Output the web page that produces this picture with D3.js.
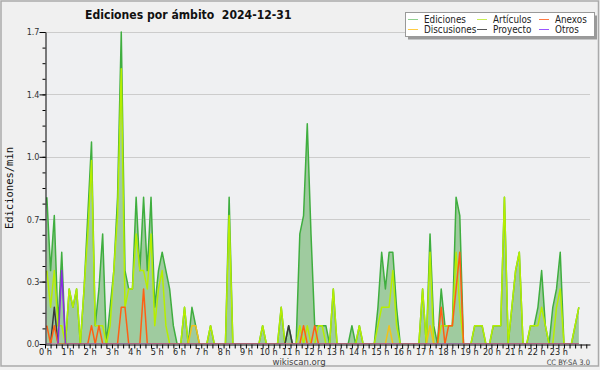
<!DOCTYPE html>
<html>
<head>
<meta charset="utf-8">
<script src="https://cdn.jsdelivr.net/npm/d3@7"></script>
<style>
  body { margin: 0; background: #f0f0f0; }
  svg text { font-family: "DejaVu Sans Condensed", "DejaVu Sans", sans-serif; font-stretch: condensed; }
</style>
</head>
<body>
<svg id="chart" width="600" height="370"></svg>
<script>
// Chart texts
const title = "Ediciones por ámbito  2024-12-31";
const yTitle = "Ediciones/min";
const hourLabels = d3.range(24).map(h => h + " h");
const yTicks = [0, 0.34, 0.68, 1.02, 1.36, 1.7];
const seriesNames = ["Ediciones", "Artículos", "Anexos", "Discusiones", "Proyecto", "Otros"];

// Edits per minute, one value per 10 minute slot (144 slots, 12 per row = 2 hours)
const ediciones = [
  0.8,0.4,0.7,0.1,0.5,0,0.3,0.2,0.3,0,0.3,0.7,
  1.1,0.1,0.3,0.6,0,0.2,0.4,0.8,1.7,0.4,0.3,0.3,
  0.8,0.4,0.8,0.4,0.8,0.2,0.4,0.5,0.4,0.3,0.1,0,
  0,0.2,0,0.2,0.1,0,0,0,0.1,0,0,0,
  0,0.8,0,0,0,0,0,0,0,0,0.1,0,
  0,0,0,0.2,0,0.1,0,0,0.6,0.7,1.2,0.6,
  0.1,0.1,0.1,0.1,0,0.3,0,0,0,0,0.1,0,
  0.1,0,0,0,0,0.2,0.5,0.3,0.5,0.5,0.2,0,
  0,0,0,0,0,0.3,0,0.6,0.1,0,0.3,0.1,
  0.1,0.1,0.8,0.7,0,0,0,0.1,0.1,0.1,0,0,
  0.1,0.1,0.1,0.8,0,0.2,0.4,0.5,0,0,0.1,0.1,
  0.2,0.4,0.1,0,0.2,0.3,0.5,0,0,0,0.1,0.2
];
const articulos = [
  0.4,0.2,0.4,0.1,0.1,0,0.3,0.2,0.3,0,0.3,0.6,
  1.0,0.1,0.1,0.1,0,0.1,0.4,0.7,1.5,0.2,0.3,0.3,
  0.6,0.4,0.4,0.3,0.6,0.1,0.3,0.4,0.1,0,0,0,
  0,0.2,0,0,0,0,0,0,0.1,0,0,0,
  0,0.7,0,0,0,0,0,0,0,0,0.1,0,
  0,0,0,0.2,0,0,0,0,0.1,0,0.1,0,
  0,0.1,0.1,0,0,0.3,0,0,0,0,0,0,
  0.1,0,0,0,0,0.1,0.2,0.2,0.2,0.4,0.1,0,
  0,0,0,0,0,0.3,0,0.5,0,0,0.1,0.1,
  0.1,0.1,0.5,0.2,0,0,0,0.1,0.1,0.1,0,0,
  0.1,0.1,0.1,0.8,0,0.2,0.4,0.5,0,0,0.1,0.1,
  0.1,0.2,0.1,0,0,0.2,0.3,0,0,0,0.1,0.2
];
const anexos = [
  0.1,0,0.1,0,0,0,0,0,0,0,0,0,
  0.1,0,0.1,0,0,0,0,0,0.2,0.2,0,0,
  0,0,0.3,0,0,0,0,0,0,0,0,0,
  0,0,0,0,0,0,0,0,0,0,0,0,
  0,0,0,0,0,0,0,0,0,0,0,0,
  0,0,0,0,0,0,0,0,0,0.1,0,0,
  0.1,0,0,0,0,0,0,0,0,0,0,0,
  0,0,0,0,0,0,0,0,0,0,0,0,
  0,0,0,0,0,0,0,0,0,0,0.2,0,
  0.1,0.1,0.3,0.5,0,0,0,0,0,0,0,0,
  0,0,0,0,0,0,0,0,0,0,0,0,
  0,0,0,0,0,0,0,0,0,0,0,0
];
const discusiones = [
  0,0,0,0,0,0,0,0,0,0,0,0,
  0,0,0,0,0,0,0,0,0,0,0,0,
  0,0,0,0,0,0,0,0,0,0,0,0,
  0,0,0,0.1,0.1,0,0,0,0,0,0,0,
  0,0,0,0,0,0,0,0,0,0,0,0,
  0,0,0,0,0,0,0,0,0,0,0,0,
  0,0,0,0,0,0,0,0,0,0,0,0,
  0,0,0,0,0,0,0,0,0.1,0,0,0,
  0,0,0,0,0,0,0,0.1,0,0,0,0,
  0,0,0,0,0,0,0,0,0,0,0,0,
  0,0,0,0,0,0,0,0,0,0,0,0,
  0,0,0,0,0,0,0,0,0,0,0,0
];
const proyecto = [
  0,0,0.2,0,0,0,0,0,0,0,0,0,
  0,0,0,0,0,0,0,0,0,0,0,0,
  0,0,0,0,0,0,0,0,0,0,0,0,
  0,0,0,0,0,0,0,0,0,0,0,0,
  0,0,0,0,0,0,0,0,0,0,0,0,
  0,0,0,0,0,0.1,0,0,0,0,0,0,
  0,0,0,0,0,0,0,0,0,0,0,0,
  0,0,0,0,0,0,0,0,0,0,0,0,
  0,0,0,0,0,0,0,0,0,0,0,0,
  0,0,0,0,0,0,0,0,0,0,0,0,
  0,0,0,0,0,0,0,0,0,0,0,0,
  0,0,0,0,0,0,0,0,0,0,0,0
];
const otros = [
  0,0,0,0,0.4,0,0,0,0,0,0,0,
  0,0,0,0,0,0,0,0,0,0,0,0,
  0,0,0,0,0,0,0,0,0,0,0,0,
  0,0,0,0,0,0,0,0,0,0,0,0,
  0,0,0,0,0,0,0,0,0,0,0,0,
  0,0,0,0,0,0,0,0,0,0,0,0,
  0,0,0,0,0,0,0,0,0,0,0,0,
  0,0,0,0,0,0,0,0,0,0,0,0,
  0,0,0,0,0,0,0,0,0,0,0,0,
  0,0,0,0,0,0,0,0,0,0,0,0,
  0,0,0,0,0,0,0,0,0,0,0,0,
  0,0,0,0,0,0,0,0,0,0,0,0
];

// Colors
const colors = {
  Ediciones: "#3fae3f",
  "Artículos": "#b6ee00",
  Anexos: "#ff5f14",
  Discusiones: "#f2c21a",
  Proyecto: "#3a3a3a",
  Otros: "#8a2be2"
};
const legendColors = ["#8fd08f", "#c8ee55", "#ff7a44", "#ffcc44", "#555555", "#9a55ff"];

let svg = d3.select("#chart");

// Background and frame
svg.append("rect").attr("x", 0).attr("y", 0).attr("width", 600).attr("height", 370).attr("fill", "#f0f0f0");
svg.append("rect").attr("x", 1).attr("y", 1).attr("width", 597.5).attr("height", 365)
  .attr("fill", "none").attr("stroke", "#aaaaaa").attr("stroke-width", 1.5);

// Scales: x in minutes of the day, points at the middle of every 10 minute slot
let x = d3.scaleLinear().domain([0, 1465]).range([45, 590]);
let y = d3.scaleLinear().domain([0, 1.7]).range([344, 32]);
let slotX = i => x(i * 10 + 5);

// Plot background
svg.append("rect").attr("x", 45).attr("y", 32).attr("width", 545).attr("height", 312).attr("fill", "#eff0f2");

// Gridlines
svg.append("g").selectAll("line")
  .data(yTicks.slice(1))
  .enter().append("line")
  .attr("x1", 45).attr("x2", 590)
  .attr("y1", d => Math.round(y(d)) + 0.5).attr("y2", d => Math.round(y(d)) + 0.5)
  .attr("stroke", "#cccccc").attr("stroke-width", 1);

// Clip so that zero runs sit under the axis
svg.append("clipPath").attr("id", "plotclip")
  .append("rect").attr("x", 45).attr("y", 20).attr("width", 545).attr("height", 323.6);

let plot = svg.append("g").attr("clip-path", "url(#plotclip)");

// Ediciones area
let area = d3.area()
  .x((d, i) => slotX(i))
  .y0(y(0))
  .y1(d => y(d));
plot.append("path").datum(ediciones)
  .attr("d", area)
  .attr("fill", "#9fcb9f");

let line = d3.line()
  .x((d, i) => slotX(i))
  .y(d => y(d));

// Lines, in drawing order
let drawOrder = [
  ["Ediciones", ediciones],
  ["Artículos", articulos],
  ["Discusiones", discusiones],
  ["Proyecto", proyecto],
  ["Anexos", anexos],
  ["Otros", otros]
];
drawOrder.forEach(s => {
  plot.append("path").datum(s[1])
    .attr("d", line)
    .attr("fill", "none")
    .attr("stroke", colors[s[0]])
    .attr("stroke-width", 1.5)
    .attr("stroke-linejoin", "round");
});

// Y axis: minor ticks, then major ticks with labels
let yMinor = d3.range(0, 21).map(k => k * 0.085);
svg.append("g")
  .attr("transform", "translate(45.5,0)")
  .call(d3.axisLeft(y).tickValues(yMinor).tickSize(3).tickFormat(""))
  .call(g => g.select(".domain").remove())
  .selectAll("line").attr("stroke", "#000");

let yAxis = svg.append("g")
  .attr("transform", "translate(45.5,0)")
  .call(d3.axisLeft(y).tickValues(yTicks).tickSize(6).tickSizeOuter(0).tickFormat(d3.format(".1f")));
yAxis.select(".domain").attr("stroke", "#000");
yAxis.selectAll("line").attr("stroke", "#000");
yAxis.selectAll("text")
  .attr("x", -6)
  .style("font-size", "9px")
  .attr("fill", "#333");

// X axis: quarter hour ticks, labels at each hour
let quarter = d3.range(0, 1466, 15);
let xAxis = svg.append("g")
  .attr("transform", "translate(0,344.5)")
  .call(d3.axisBottom(x).tickValues(quarter).tickSize(4).tickSizeOuter(0).tickFormat(""));
xAxis.select(".domain").attr("stroke", "#000");
xAxis.selectAll("line").attr("stroke", "#000");

svg.append("g").selectAll("text")
  .data(hourLabels)
  .enter().append("text")
  .attr("x", (d, i) => x(i * 60) + 0.5)
  .attr("y", 355)
  .attr("text-anchor", "middle")
  .style("font-size", "9px")
  .attr("fill", "#222")
  .text(d => d);

// Y title
svg.append("text")
  .attr("transform", "translate(13,188) rotate(-90)")
  .attr("text-anchor", "middle")
  .style("font-family", "'DejaVu Sans Mono', monospace")
  .style("font-size", "10.5px")
  .attr("fill", "#111")
  .text(yTitle);

// Title
svg.append("text")
  .attr("x", 85)
  .attr("y", 19)
  .attr("xml:space", "preserve")
  .style("white-space", "pre")
  .style("font-size", "12.1px")
  .style("font-weight", "bold")
  .attr("fill", "#111")
  .text(title);

// Legend
let legend = svg.append("g");
legend.append("rect").attr("x", 408).attr("y", 15.5).attr("width", 189).attr("height", 24).attr("fill", "#9a9a9a");
legend.append("rect").attr("x", 405.5).attr("y", 12.5).attr("width", 189).attr("height", 24)
  .attr("fill", "#ffffff").attr("stroke", "#999").attr("stroke-width", 1);

let legendCols = [408, 477, 539];
let legendRows = [19.5, 29.5];
let legendOrder = [0, 3, 1, 4, 2, 5];
legendOrder.forEach((k, j) => {
  let cx = legendCols[Math.floor(j / 2)];
  let cy = legendRows[j % 2];
  legend.append("line")
    .attr("x1", cx).attr("x2", cx + 10)
    .attr("y1", cy).attr("y2", cy)
    .attr("stroke", legendColors[k]).attr("stroke-width", 1);
  legend.append("text")
    .attr("x", cx + 16)
    .attr("y", cy + 3.5)
    .style("font-size", "9.8px")
    .attr("fill", "#222")
    .text(seriesNames[k]);
});

// Footer
svg.append("text")
  .attr("x", 299).attr("y", 365)
  .attr("text-anchor", "middle")
  .style("font-size", "9.5px")
  .attr("fill", "#444")
  .text("wikiscan.org");
svg.append("text")
  .attr("x", 590).attr("y", 365)
  .attr("text-anchor", "end")
  .style("font-size", "7.5px")
  .attr("fill", "#444")
  .text("CC BY-SA 3.0");
</script>
</body>
</html>
